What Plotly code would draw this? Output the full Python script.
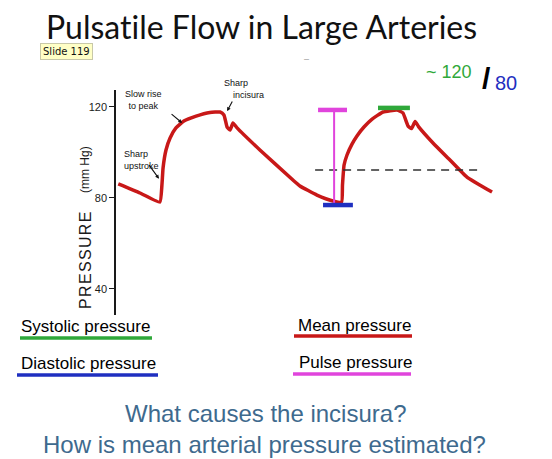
import plotly.graph_objects as go

# The page body has an 8px default margin, so the figure is drawn 8px in
# from the window corner; size it to fill the rest of the 552x459 window.
OFF = 8
W, H = 552 - OFF, 459 - OFF


def px(x):
    return (x - OFF) / W


def py(y):
    return 1 - (y - OFF) / H


# ---- data ----
time_s = [0.010, 0.106, 0.194, 0.203, 0.208, 0.221, 0.239, 0.265, 0.300, 0.354,
          0.415, 0.460, 0.477, 0.491, 0.504, 0.517, 0.535, 0.636, 0.782, 0.813,
          0.888, 0.959, 0.997, 1.001, 1.008, 1.021, 1.043, 1.065, 1.096, 1.132,
          1.180, 1.242, 1.268, 1.291, 1.306, 1.322, 1.337, 1.401, 1.476, 1.551,
          1.662]
pressure_mmHg = [86.2, 82.2, 78.2, 85.7, 93.2, 101.1, 106.4, 110.8, 113.8, 116.0,
                 117.6, 117.8, 116.5, 111.2, 109.9, 113.0, 110.8, 101.1, 87.9, 85.3,
                 81.3, 78.7, 78.2, 85.7, 94.5, 98.9, 103.7, 107.3, 111.2, 114.7,
                 117.8, 118.7, 117.4, 111.6, 110.5, 113.6, 111.4, 104.2, 96.7, 89.2,
                 82.6]

systolic = 119.6
diastolic = 76.9
pulse_top = 118.7
mean_pressure = 92.3
systolic_t = [1.158, 1.299]
diastolic_t = [0.915, 1.047]
pulse_t = 0.964
pulse_cap_t = [0.893, 1.021]
mean_t = [0.880, 1.609]

y_ticks = [40, 80, 120]
y_tick_labels = ["40", "80", "120"]

RED = "#c81818"
GREEN = "#2fa83a"
BLUE = "#1f2fc0"
MAGENTA = "#e044dc"
QBLUE = "#3e6a8e"

fig = go.Figure()

fig.add_trace(go.Scatter(x=time_s, y=pressure_mmHg, mode="lines",
                         line=dict(color=RED, width=3.5, shape="spline", smoothing=0.4),
                         hoverinfo="skip"))
fig.add_trace(go.Scatter(x=mean_t, y=[mean_pressure, mean_pressure], mode="lines",
                         line=dict(color="#303030", width=1.6, dash="8px,6px"),
                         hoverinfo="skip"))
fig.add_trace(go.Scatter(x=[pulse_t, pulse_t], y=[pulse_top, diastolic], mode="lines",
                         line=dict(color=MAGENTA, width=2), hoverinfo="skip"))
fig.add_trace(go.Scatter(x=pulse_cap_t, y=[pulse_top, pulse_top], mode="lines",
                         line=dict(color=MAGENTA, width=4.5), hoverinfo="skip"))
fig.add_trace(go.Scatter(x=systolic_t, y=[systolic, systolic], mode="lines",
                         line=dict(color=GREEN, width=4.5), hoverinfo="skip"))
fig.add_trace(go.Scatter(x=diastolic_t, y=[diastolic, diastolic], mode="lines",
                         line=dict(color=BLUE, width=4.5), hoverinfo="skip"))

ann = []


def text(x, y, s, size, color="black", family="Liberation Sans", xanchor="center",
         angle=0, bg=None, border=None, pad=1, align="center"):
    d = dict(x=px(x), y=py(y), xref="paper", yref="paper", text=s, showarrow=False,
             xanchor=xanchor, yanchor="middle", textangle=angle, align=align,
             font=dict(size=size, color=color, family=family), borderpad=pad)
    if bg:
        d["bgcolor"] = bg
    if border:
        d["bordercolor"] = border
        d["borderwidth"] = 1
    ann.append(d)


# title and slide tag
text(261, 26, "Pulsat\u200cile Flow in Large Arteries", 32, "#111111", "Lato")
text(66, 51, "Slide 119", 10, "#111111", "DejaVu Sans", bg="#ffffc6", border="#c8c8a8", pad=2)
text(306, 59, "–", 9, "#999999")

# ~120/80
text(474, 72, "~ 120", 18, GREEN, "Liberation Sans", xanchor="right")
text(486, 78, "<b>/</b>", 30, "black", "Liberation Sans")
text(493, 83, "80", 20, BLUE, "Liberation Sans", xanchor="left")

# axis title
text(85, 170, "(mm Hg)", 12, "#1a1a1a", "Liberation Sans", angle=-90)
text(85, 261, "P\u200aR\u200aE\u200aS\u200aS\u200aU\u200aR\u200aE", 16, "#1a1a1a",
     "Liberation Sans", angle=-90)

# curve annotations
text(143, 100, "Slow rise<br>to peak", 9, "#111111")
text(244, 89, "Sharp<br>\u2002\u2002incisura", 9, "#111111", align="left")
text(122, 160, "Sharp<br>upstroke", 9, "#111111", xanchor="left", align="left")

for hx, hy, axp, ayp in [(0.292, 113.0, -12, -10), (0.491, 118.2, 6, -11),
                         (0.190, 88.5, -11, -15)]:
    ann.append(dict(x=hx, y=hy, xref="x", yref="y", ax=axp, ay=ayp, text="",
                    showarrow=True, arrowhead=2, arrowsize=0.7, arrowwidth=1.1,
                    arrowcolor="#111111"))

# legend-like labels
text(19, 326, "Systolic pressure", 17, "black", xanchor="left")
text(19, 363, "Diastolic pressure", 17, "black", xanchor="left")
text(296, 325, "Mean pressure", 17, "black", xanchor="left")
text(297, 362, "Pulse pressure", 17, "black", xanchor="left")

# questions
text(265, 413, "What causes the incisura?", 24, QBLUE)
text(264, 444, "How is mean arterial pressure estimated?", 24, QBLUE)

shapes = []
for x0, x1, y, c in [(20, 152, 338, GREEN), (17, 158, 375, BLUE),
                     (294, 412, 336, RED), (293, 411, 374, MAGENTA)]:
    shapes.append(dict(type="line", xref="paper", yref="paper", x0=px(x0), x1=px(x1),
                       y0=py(y), y1=py(y), line=dict(color=c, width=3.5)))

fig.update_layout(
    width=W, height=H, margin=dict(l=0, r=0, t=0, b=0),
    paper_bgcolor="white", plot_bgcolor="white", showlegend=False,
    annotations=ann, shapes=shapes,
    xaxis=dict(domain=[px(116), 1], range=[0, 1.927 * (W - (116 - OFF)) / (552 - 116)],
               visible=False, fixedrange=True),
    yaxis=dict(domain=[py(315), py(90)], range=[28.56, 127.47], showline=True,
               linecolor="#1a1a1a", linewidth=1.5, ticks="outside", ticklen=5,
               tickwidth=1.2, tickcolor="#1a1a1a", tickvals=y_ticks,
               ticktext=y_tick_labels, showgrid=False, zeroline=False,
               tickfont=dict(size=11, color="#1a1a1a", family="Liberation Sans"),
               fixedrange=True),
)

fig.write_html("out.html")
